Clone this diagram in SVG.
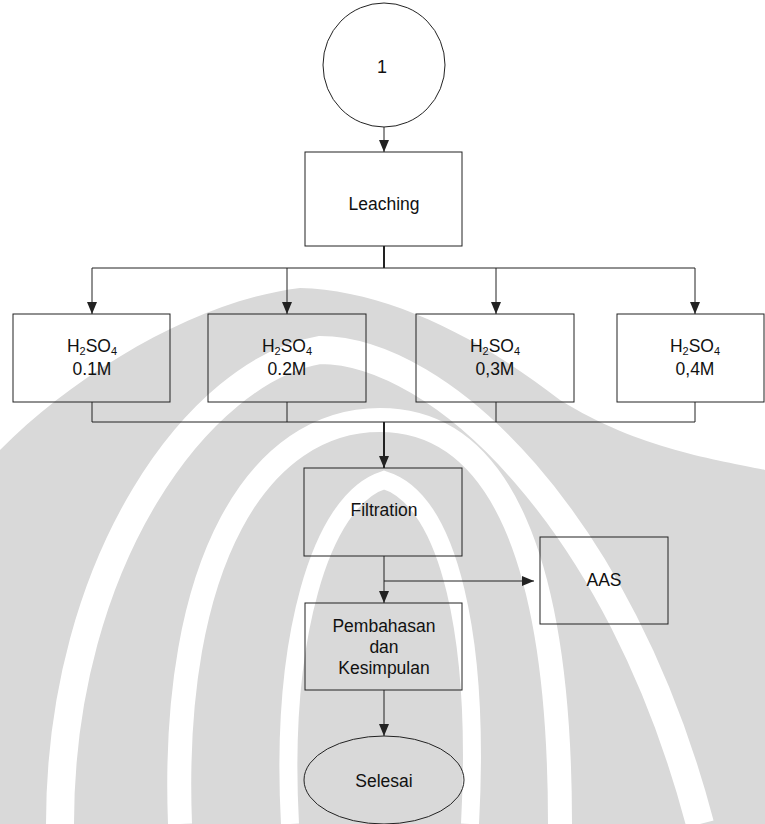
<svg xmlns="http://www.w3.org/2000/svg" width="765" height="824" viewBox="0 0 765 824">
<defs>
<style>
.bx{fill:none;stroke:#222;stroke-width:1}
.ln{fill:none;stroke:#222;stroke-width:1}
.thk{stroke-width:2}
.t{font-family:"Liberation Sans",Arial,sans-serif;font-size:17.5px;fill:#111;text-anchor:middle}
.wm{fill:#d9d9d9}
.wb{fill:none;stroke:#fff}
</style>
<marker id="ah" viewBox="0 0 12 10" refX="12" refY="5" markerUnits="userSpaceOnUse" markerWidth="12" markerHeight="10" orient="auto">
<path d="M0,0 L12,5 L0,10 Z" fill="#222"/>
</marker>
</defs>
<rect width="765" height="824" fill="#fff"/>
<g id="watermark">
<path class="wm" d="M0,450 C80,370 200,300 300,288 C380,290 470,330 560,400 C640,450 720,460 765,470 L765,824 L0,824 Z"/>
<path class="wb" stroke-width="28" d="M60,824 C60,560 200,370 320,350 C440,350 620,520 700,824"/>
<path class="wb" stroke-width="24" d="M180,824 C170,560 260,420 380,420 C500,420 560,560 560,824"/>
<path class="wb" stroke-width="18" d="M290,824 C280,640 320,500 384,480 C450,500 480,640 470,824"/>
</g>
<g id="connectors">
<path class="ln" d="M384,127 L384,152" marker-end="url(#ah)"/>
<path class="ln thk" d="M384,246 L384,268"/>
<path class="ln" d="M92,268 L695,268"/>
<path class="ln" d="M92,268 L92,314" marker-end="url(#ah)"/>
<path class="ln" d="M287,268 L287,314" marker-end="url(#ah)"/>
<path class="ln" d="M496,268 L496,314" marker-end="url(#ah)"/>
<path class="ln" d="M695,268 L695,314" marker-end="url(#ah)"/>
<path class="ln" d="M92,402 L92,422 M287,402 L287,422 M496,402 L496,422 M695,402 L695,422 M92,422 L695,422"/>
<path class="ln thk" d="M384,422 L384,468" marker-end="url(#ah)"/>
<path class="ln" d="M384,556 L384,603" marker-end="url(#ah)"/>
<path class="ln" d="M384,581 L534,581" marker-end="url(#ah)"/>
<path class="ln" d="M384,690 L384,736" marker-end="url(#ah)"/>
</g>
<g id="n1">
<ellipse class="bx" cx="384" cy="65" rx="61" ry="62"/>
<text class="t" x="382" y="73" style="font-size:18px">1</text>
</g>
<g id="leaching">
<rect class="bx" x="305" y="152" width="157" height="94"/>
<text class="t" x="384" y="210">Leaching</text>
</g>
<g id="h1">
<rect class="bx" x="13" y="314" width="157" height="88"/>
<text class="t" x="92" y="352">H<tspan font-size="11" dy="3">2</tspan><tspan dy="-3">SO</tspan><tspan font-size="11" dy="3">4</tspan></text>
<text class="t" x="92" y="375">0.1M</text>
</g>
<g id="h2">
<rect class="bx" x="208" y="314" width="158" height="88"/>
<text class="t" x="287" y="352">H<tspan font-size="11" dy="3">2</tspan><tspan dy="-3">SO</tspan><tspan font-size="11" dy="3">4</tspan></text>
<text class="t" x="287" y="375">0.2M</text>
</g>
<g id="h3">
<rect class="bx" x="416" y="314" width="158" height="88"/>
<text class="t" x="495" y="352">H<tspan font-size="11" dy="3">2</tspan><tspan dy="-3">SO</tspan><tspan font-size="11" dy="3">4</tspan></text>
<text class="t" x="495" y="375">0,3M</text>
</g>
<g id="h4">
<rect class="bx" x="617" y="314" width="147" height="88"/>
<text class="t" x="695" y="352">H<tspan font-size="11" dy="3">2</tspan><tspan dy="-3">SO</tspan><tspan font-size="11" dy="3">4</tspan></text>
<text class="t" x="695" y="375">0,4M</text>
</g>
<g id="filtration">
<rect class="bx" x="304" y="468" width="158" height="88"/>
<text class="t" x="384" y="516">Filtration</text>
</g>
<g id="aas">
<rect class="bx" x="540" y="537" width="128" height="87"/>
<text class="t" x="604" y="586">AAS</text>
</g>
<g id="pembahasan">
<rect class="bx" x="305" y="603" width="157" height="87"/>
<text class="t" x="384" y="632">Pembahasan</text>
<text class="t" x="384" y="653">dan</text>
<text class="t" x="384" y="674">Kesimpulan</text>
</g>
<g id="selesai">
<ellipse class="bx" cx="384" cy="780" rx="80" ry="44"/>
<text class="t" x="384" y="787">Selesai</text>
</g>
</svg>
